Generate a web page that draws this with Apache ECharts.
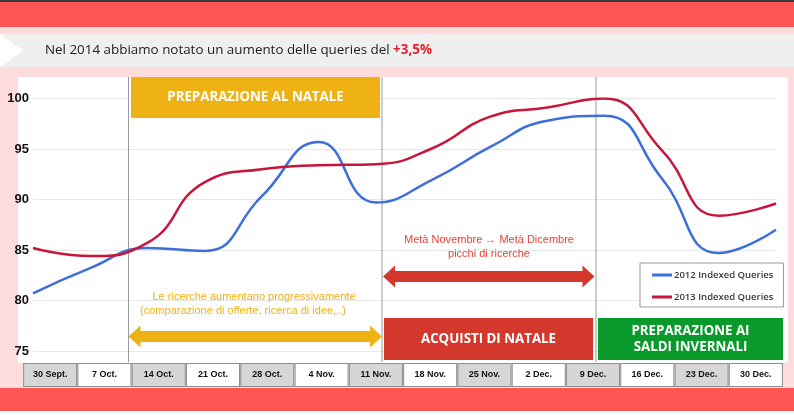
<!DOCTYPE html>
<html><head><meta charset="utf-8">
<script src="https://cdn.jsdelivr.net/npm/echarts@6/dist/echarts.min.js"></script>
<style>html,body{margin:0;padding:0;background:#fff}#c{width:794px;height:415px}</style>
</head><body><div id="c"></div>
<script>
// ---- data ----
const weeks = ['30 Sept.','7 Oct.','14 Oct.','21 Oct.','28 Oct.','4 Nov.','11 Nov.','18 Nov.','25 Nov.','2 Dec.','9 Dec.','16 Dec.','23 Dec.','30 Dec.'];
const queries2012 = [80.7, 83.2, 85.2, 84.9, 90.3, 95.7, 89.7, 92.0, 95.2, 97.8, 98.3, 92.1, 84.7, 87.0];
const queries2013 = [85.2, 84.4, 85.7, 91.7, 93.0, 93.4, 93.5, 95.1, 98.2, 99.1, 100.0, 94.9, 88.4, 89.6];
const seriesNames = ['2012 Indexed Queries', '2013 Indexed Queries'];
const yMin = 75, yMax = 100, yStep = 5;
const headline = 'Nel 2014 abbiamo notato un aumento delle queries del ';
const headlineHighlight = '+3,5%';
const phaseTop = 'PREPARAZIONE AL NATALE';
const phaseShop = 'ACQUISTI DI NATALE';
const phaseSales = 'PREPARAZIONE AI\nSALDI INVERNALI';
const noteYellow1 = 'Le ricerche aumentano progressivamente';
const noteYellow2 = '(comparazione di offerte, ricerca di idee,..)';
const noteRed1 = 'Metà Novembre → Metà Dicembre';
const noteRed2 = 'picchi di ricerche';

// ---- styles ----
const YEL = '#efb215', RED = '#d4372c', GRN = '#0a9a2c';
const BLUE = '#3d6fdc', CRIMSON = '#c8163a';
const SANS = '"Liberation Sans", Arial, sans-serif';
const OPEN = '"Open Sans", sans-serif';

function dblArrow(x1, x2, cy, color) {
  const sh = 5.5, hh = 11, hl = 12;
  return {
    type: 'polygon', z: 50,
    shape: { points: [[x1,cy],[x1+hl,cy-hh],[x1+hl,cy-sh],[x2-hl,cy-sh],[x2-hl,cy-hh],[x2,cy],[x2-hl,cy+hh],[x2-hl,cy+sh],[x1+hl,cy+sh],[x1+hl,cy+hh]] },
    style: { fill: color }
  };
}
function vline(x) {
  return { type: 'line', z: 1, shape: { x1: x, y1: 77, x2: x, y2: 362 }, style: { stroke: '#9a9a9a', lineWidth: 1 } };
}
function box(x, y, w, h, color, text, fs) {
  return {
    type: 'rect', z: 50, shape: { x: x, y: y, width: w, height: h }, style: { fill: color },
    textContent: { style: { text: text, fill: '#fff', font: 'bold ' + fs + 'px ' + OPEN, align: 'center', verticalAlign: 'middle', lineHeight: 16 }, z: 51 },
    textConfig: { position: 'inside' }
  };
}
function note(x, y, text, color) {
  return { type: 'text', z: 50, x: x, y: y, style: { text: text, fill: color, font: '11px ' + SANS, align: 'center', verticalAlign: 'middle' } };
}

const chart = echarts.init(document.getElementById('c'), null, { renderer: 'canvas' });
chart.setOption({
  backgroundColor: '#ffffff',
  animation: false,
  graphic: [
    { type: 'rect', z: -100, shape: { x: 0, y: 0, width: 794, height: 411 }, style: { fill: '#ffdcdc' } },
    { type: 'rect', z: -99, shape: { x: 0, y: 0, width: 794, height: 2 }, style: { fill: '#3a3a3a' } },
    { type: 'rect', z: -99, shape: { x: 0, y: 2, width: 794, height: 25 }, style: { fill: '#ff5555' } },
    { type: 'rect', z: -99, shape: { x: 0, y: 34, width: 794, height: 33 }, style: { fill: '#efefef' } },
    { type: 'polygon', z: -98, shape: { points: [[0,34],[23,50.5],[0,67]] }, style: { fill: '#ffffff' } },
    { type: 'rect', z: -99, shape: { x: 18, y: 77, width: 770, height: 286 }, style: { fill: '#ffffff' } },
    { type: 'rect', z: -99, shape: { x: 0, y: 388, width: 794, height: 23 }, style: { fill: '#ff5555' } },
    { type: 'text', z: 50, x: 45, y: 50.5, style: {
        text: '{a|' + headline + '}{b|' + headlineHighlight + '}',
        verticalAlign: 'middle',
        rich: { a: { font: '13.4px ' + OPEN, fill: '#222' }, b: { font: 'bold 13.4px ' + OPEN, fill: '#e3202f' } }
    } },
    vline(128.5), vline(382), vline(596),
    box(131, 77, 249, 41, YEL, phaseTop, 13.3),
    box(384, 318, 209, 42, RED, phaseShop, 13.3),
    box(598, 318, 185, 42, GRN, phaseSales, 13.3),
    note(254, 297, noteYellow1, YEL),
    note(243, 311, noteYellow2, YEL),
    note(489, 239.5, noteRed1, '#e3443a'),
    note(489, 253.5, noteRed2, '#e3443a'),
    dblArrow(128.5, 382, 336.5, YEL),
    dblArrow(383, 594.5, 276.5, RED)
  ],
  legend: {
    data: seriesNames,
    orient: 'vertical',
    left: 640, top: 263,
    padding: [5, 10, 3, 12],
    itemGap: 8,
    itemWidth: 20, itemHeight: 3,
    icon: 'rect',
    backgroundColor: '#ffffff',
    borderColor: '#9a9a9a', borderWidth: 1,
    textStyle: { fontFamily: OPEN, fontWeight: 600, fontSize: 9.5, color: '#3a3a3a', lineHeight: 14, padding: [0, 0, 0, -3] }
  },
  grid: [
    { left: 33, right: 18, top: 98.5, bottom: 64, outerBoundsMode: 'none' },
    { left: 23, right: 11, top: 362, height: 1, outerBoundsMode: 'none' }
  ],
  xAxis: [
    { type: 'category', gridIndex: 0, data: weeks, boundaryGap: false, show: false },
    { type: 'category', gridIndex: 1, data: weeks, boundaryGap: true,
      axisLine: { show: false }, axisTick: { show: false }, splitLine: { show: false },
      axisLabel: {
        interval: 0, margin: 1,
        formatter: (v, i) => '{' + (i % 2 === 0 ? 'g' : 'w') + '|' + v + '}',
        rich: {
          g: { backgroundColor: '#d6d6d6', borderColor: '#8f8f8f', borderWidth: 1, width: 52, height: 22, lineHeight: 22, align: 'center', fontFamily: SANS, fontWeight: 'bold', fontSize: 9, color: '#111' },
          w: { backgroundColor: '#ffffff', borderColor: '#8f8f8f', borderWidth: 1, width: 52, height: 22, lineHeight: 22, align: 'center', fontFamily: SANS, fontWeight: 'bold', fontSize: 9, color: '#111' }
        }
      } }
  ],
  yAxis: [
    { type: 'value', gridIndex: 0, min: yMin, max: yMax, interval: yStep,
      axisLine: { show: false }, axisTick: { show: false },
      splitLine: { lineStyle: { color: '#e8e8e8', width: 1 } },
      axisLabel: { margin: 4, fontFamily: SANS, fontWeight: 'bold', fontSize: 13, color: '#111' } },
    { type: 'value', gridIndex: 1, show: false, min: 0, max: 1 }
  ],
  series: [
    { name: seriesNames[0], type: 'line', xAxisIndex: 0, yAxisIndex: 0, data: queries2012, smooth: 0.5, symbol: 'none',
      lineStyle: { color: BLUE, width: 2.5 }, itemStyle: { color: BLUE }, z: 5 },
    { name: seriesNames[1], type: 'line', xAxisIndex: 0, yAxisIndex: 0, data: queries2013, smooth: 0.5, symbol: 'none',
      lineStyle: { color: CRIMSON, width: 2.5 }, itemStyle: { color: CRIMSON }, z: 5 }
  ]
});
</script></body></html>
